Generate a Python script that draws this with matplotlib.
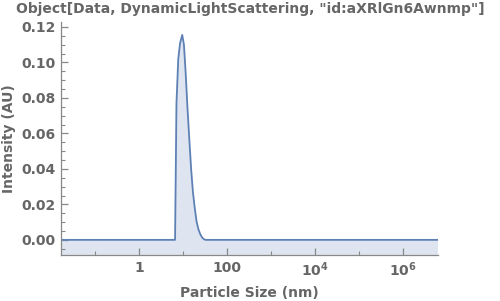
import matplotlib
matplotlib.use("Agg")
import matplotlib.pyplot as plt
from matplotlib.ticker import FixedLocator, NullFormatter

# particle size (nm) and intensity (AU)
size_nm = [0.01, 6.6, 7.1, 7.8, 8.6, 9.6, 10.5, 11.5, 12.6, 13.9, 15.3,
           16.8, 18.5, 20.3, 22.4, 24.6, 27.1, 29.8, 32.8, 1e7]
intensity = [0.0, 0.0, 0.077, 0.102, 0.111, 0.1155, 0.110, 0.094, 0.075,
             0.057, 0.040, 0.027, 0.018, 0.0105, 0.006, 0.0033, 0.0014,
             0.0004, 0.0, 0.0]

x_major = [1, 100, 1e4, 1e6]
x_major_labels = ["1", "100", r"$\mathbf{10^{4}}$", r"$\mathbf{10^{6}}$"]
x_minor = [0.1, 10, 1000, 1e5]
y_major = [0.0, 0.02, 0.04, 0.06, 0.08, 0.10, 0.12]

TEXT = "#666666"
LINE = "#5E81B5"

plt.rcParams["font.family"] = "DejaVu Sans"
plt.rcParams["font.weight"] = "bold"
plt.rcParams["mathtext.fontset"] = "dejavusans"

fig = plt.figure(figsize=(5.0, 3.01), dpi=100)
ax = fig.add_axes([0.122, 0.153, 0.754, 0.774])

ax.fill_between(size_nm, intensity, -1, color=LINE, alpha=0.2, linewidth=0)
ax.plot(size_nm, intensity, color=LINE, linewidth=1.3)

ax.set_xscale("log")
ax.set_xlim(0.0168, 6.3e6)
ax.set_ylim(-0.0085, 0.1228)

ax.set_xticks(x_major, x_major_labels)
ax.xaxis.set_minor_locator(FixedLocator(x_minor))
ax.xaxis.set_minor_formatter(NullFormatter())
ax.set_yticks(y_major, ["%.2f" % v for v in y_major])
ax.yaxis.set_minor_locator(FixedLocator([i * 0.005 for i in range(-1, 25) if i % 4]))

for side in ["top", "right"]:
    ax.spines[side].set_visible(False)
for side in ["left", "bottom"]:
    ax.spines[side].set_color("#888888")
    ax.spines[side].set_linewidth(0.9)

ax.tick_params(which="both", direction="in", color="#888888", labelcolor=TEXT,
               labelsize=10)
ax.tick_params(which="major", length=5, width=0.9, pad=4)
ax.tick_params(which="minor", length=3, width=0.8)
ax.tick_params(axis="x", pad=4)

ax.set_xlabel("Particle Size (nm)", color=TEXT, fontsize=10, fontweight="bold", labelpad=5)
ax.set_ylabel("Intensity (AU)", color=TEXT, fontsize=10, fontweight="bold", labelpad=4)
fig.suptitle('Object[Data, DynamicLightScattering, "id:aXRlGn6Awnmp"]',
             color=TEXT, fontsize=10, fontweight="bold", x=0.5, y=0.995)

fig.savefig("out.png", dpi=100)
